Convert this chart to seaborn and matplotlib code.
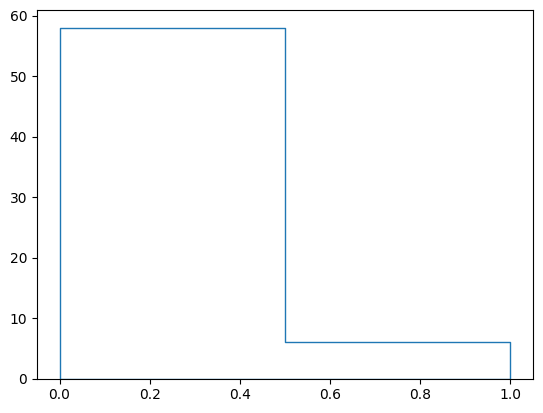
import numpy as np
import pandas as pd
import matplotlib
matplotlib.use("Agg")
import matplotlib.pyplot as plt
import seaborn as sns

values = [0, 1]
counts = [58, 6]

data = pd.DataFrame({"value": np.repeat(values, counts)})

fig = plt.figure(figsize=(5.43, 4.13), dpi=100)
ax = fig.add_axes([0.0681, 0.0831, 0.9134, 0.892])
sns.histplot(data=data, x="value", bins=2, element="step", fill=True,
             color="C0", linewidth=1, ax=ax)
for coll in ax.collections:
    coll.set_alpha(1)
    coll.set_facecolor("none")
    coll.set_edgecolor("C0")
    coll.set_linewidth(1)
ax.set_xlabel("")
ax.set_ylabel("")
fig.savefig("out.png", dpi=100)
